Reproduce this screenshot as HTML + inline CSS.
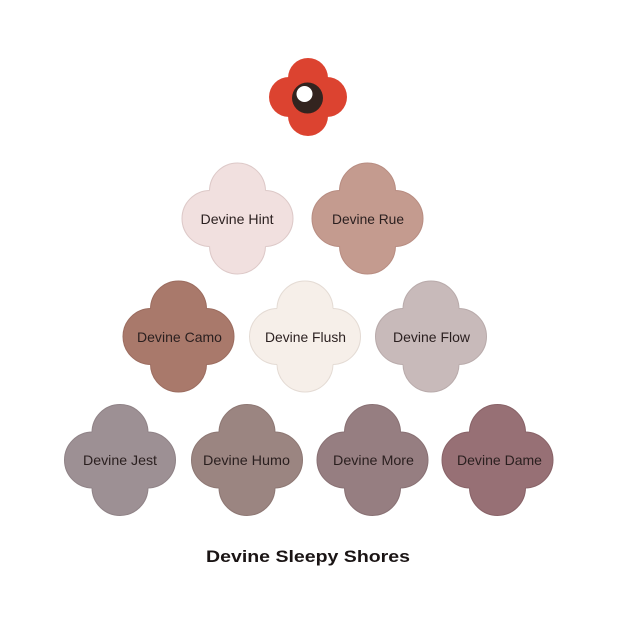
<!DOCTYPE html>
<html>
<head>
<meta charset="utf-8">
<style>
html,body{margin:0;padding:0;background:#fff;}
svg{display:block;}
text{font-family:"Liberation Sans",sans-serif;}
</style>
</head>
<body>
<svg width="620" height="620" viewBox="0 0 620 620" xmlns="http://www.w3.org/2000/svg">
<defs>
  <g id="qf-stroke">
    <circle cx="0" cy="-27.5" r="27.5"/>
    <circle cx="0" cy="27.5" r="27.5"/>
    <circle cx="-27.5" cy="0" r="27.5"/>
    <circle cx="27.5" cy="0" r="27.5"/>
  </g>
  <g id="qf">
    <circle cx="0" cy="-27.5" r="27.5"/>
    <circle cx="0" cy="27.5" r="27.5"/>
    <circle cx="-27.5" cy="0" r="27.5"/>
    <circle cx="27.5" cy="0" r="27.5"/>
    <rect x="-28" y="-28" width="56" height="56"/>
  </g>
</defs>

<!-- Logo -->
<g transform="translate(308,97)" fill="#dc4330">
  <circle cx="0" cy="-19" r="20"/>
  <circle cx="0" cy="19" r="20"/>
  <circle cx="-19" cy="0" r="20"/>
  <circle cx="19" cy="0" r="20"/>
  <rect x="-20" y="-20" width="40" height="40"/>
</g>
<circle cx="307.5" cy="98" r="15.5" fill="#33241f"/>
<circle cx="304.5" cy="94" r="8" fill="#ffffff"/>

<!-- Row 1 -->
<g transform="translate(237.5,218.5)">
  <use href="#qf-stroke" fill="none" stroke="#ddc9c8" stroke-width="2"/>
  <use href="#qf" fill="#f1e0df"/>
</g>
<g transform="translate(367.5,218.5)">
  <use href="#qf-stroke" fill="none" stroke="#b88d82" stroke-width="2"/>
  <use href="#qf" fill="#c49b8f"/>
</g>

<!-- Row 2 -->
<g transform="translate(178.5,336.5)">
  <use href="#qf-stroke" fill="none" stroke="#9c6d60" stroke-width="2"/>
  <use href="#qf" fill="#a9796b"/>
</g>
<g transform="translate(305,336.5)">
  <use href="#qf-stroke" fill="none" stroke="#e4dbd4" stroke-width="2"/>
  <use href="#qf" fill="#f6efe9"/>
</g>
<g transform="translate(431,336.5)">
  <use href="#qf-stroke" fill="none" stroke="#b9abab" stroke-width="2"/>
  <use href="#qf" fill="#c8baba"/>
</g>

<!-- Row 3 -->
<g transform="translate(120,460)">
  <use href="#qf-stroke" fill="none" stroke="#908387" stroke-width="2"/>
  <use href="#qf" fill="#9d9094"/>
</g>
<g transform="translate(247,460)">
  <use href="#qf-stroke" fill="none" stroke="#8e7874" stroke-width="2"/>
  <use href="#qf" fill="#9b8581"/>
</g>
<g transform="translate(372.5,460)">
  <use href="#qf-stroke" fill="none" stroke="#897174" stroke-width="2"/>
  <use href="#qf" fill="#967e81"/>
</g>
<g transform="translate(497.5,460)">
  <use href="#qf-stroke" fill="none" stroke="#896368" stroke-width="2"/>
  <use href="#qf" fill="#977075"/>
</g>

<!-- Labels -->
<g font-size="14" fill="#2a1f1f" text-anchor="middle">
  <text x="237" y="224" textLength="73" lengthAdjust="spacingAndGlyphs">Devine Hint</text>
  <text x="368" y="224" textLength="72" lengthAdjust="spacingAndGlyphs">Devine Rue</text>
  <text x="179.5" y="342" textLength="85" lengthAdjust="spacingAndGlyphs">Devine Camo</text>
  <text x="305.5" y="342" textLength="81" lengthAdjust="spacingAndGlyphs">Devine Flush</text>
  <text x="431.5" y="342" textLength="77" lengthAdjust="spacingAndGlyphs">Devine Flow</text>
  <text x="120" y="465" textLength="74" lengthAdjust="spacingAndGlyphs">Devine Jest</text>
  <text x="246.5" y="465" textLength="87" lengthAdjust="spacingAndGlyphs">Devine Humo</text>
  <text x="373.5" y="465" textLength="81" lengthAdjust="spacingAndGlyphs">Devine More</text>
  <text x="499.5" y="465" textLength="85" lengthAdjust="spacingAndGlyphs">Devine Dame</text>
</g>

<!-- Title -->
<text x="308" y="562" font-size="17" font-weight="bold" fill="#1a1414" text-anchor="middle" textLength="204" lengthAdjust="spacingAndGlyphs">Devine Sleepy Shores</text>
</svg>
</body>
</html>
